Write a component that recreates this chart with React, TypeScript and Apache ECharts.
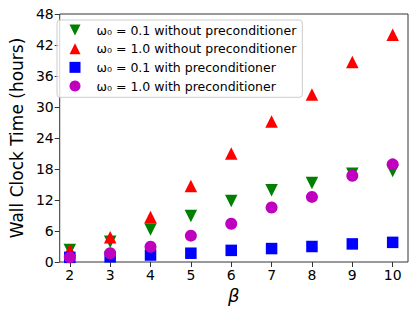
import React, { useEffect, useRef } from "react";
import * as echarts from "echarts";

const betas = [2, 3, 4, 5, 6, 7, 8, 9, 10];
const w01NoPre = [2.3, 3.9, 6.3, 8.9, 11.8, 13.9, 15.3, 17.1, 17.6];
const w10NoPre = [2.3, 4.8, 8.7, 14.7, 21.0, 27.2, 32.4, 38.7, 44.0];
const w01Pre = [0.9, 1.0, 1.35, 1.7, 2.25, 2.6, 3.0, 3.5, 3.8];
const w10Pre = [0.9, 1.7, 2.95, 5.1, 7.4, 10.55, 12.6, 16.7, 18.9];
const xTicks = [2, 3, 4, 5, 6, 7, 8, 9, 10];
const seriesNames = [
  "ω₀ = 0.1 without preconditioner",
  "ω₀ = 1.0 without preconditioner",
  "ω₀ = 0.1 with preconditioner",
  "ω₀ = 1.0 with preconditioner",
];

const FONT = "DejaVu Sans";

export default function App() {
  const ref = useRef<HTMLDivElement>(null);
  useEffect(() => {
    if (!ref.current) return;
    const chart = echarts.init(ref.current, null, { renderer: "svg" });
    const mk = (vals: number[]) => betas.map((b, i) => [b, vals[i]]);
    const downTri = "path://M0,0 L10,0 L5,10 Z";
    chart.setOption({
      animation: false,
      textStyle: { fontFamily: FONT },
      grid: {
        left: 51,
        right: 7,
        top: 14,
        bottom: 50,
        show: true,
        borderColor: "#333",
        borderWidth: 1,
        backgroundColor: "transparent",
      },
      legend: {
        orient: "vertical",
        left: 57,
        top: 20,
        padding: [2.5, 6, 3.8, 12.5],
        itemWidth: 11,
        itemHeight: 11,
        itemGap: 3.67,
        borderColor: "#ccc",
        borderWidth: 1,
        borderRadius: 3,
        backgroundColor: "rgba(255,255,255,0.8)",
        textStyle: { fontFamily: FONT, fontSize: 12.5, lineHeight: 15, color: "#000", padding: [0, 0, 0, 11] },
        data: seriesNames,
      },
      xAxis: {
        type: "value",
        min: 1.75,
        max: 10.38,
        name: "β",
        nameLocation: "middle",
        nameGap: 22,
        nameTextStyle: { fontFamily: FONT, fontSize: 18, fontStyle: "italic", color: "#000" },
        splitLine: { show: false },
        axisLine: { show: false },
        axisTick: { show: true, customValues: xTicks, length: 5, lineStyle: { color: "#333" } },
        axisLabel: { customValues: xTicks, fontSize: 14, color: "#000", margin: 6 },
      },
      yAxis: {
        type: "value",
        min: 0,
        max: 48,
        interval: 6,
        name: "Wall Clock Time (hours)",
        nameLocation: "middle",
        nameGap: 34,
        nameTextStyle: { fontFamily: FONT, fontSize: 17, color: "#000" },
        splitLine: { show: false },
        axisLine: { show: false },
        axisTick: { show: true, length: 5, lineStyle: { color: "#333" } },
        axisLabel: { fontSize: 14, color: "#000", margin: 6 },
      },
      series: [
        {
          name: seriesNames[0],
          type: "scatter",
          symbol: downTri,
          symbolSize: 12.5,
          itemStyle: { color: "#008000", opacity: 1 },
          data: mk(w01NoPre),
        },
        {
          name: seriesNames[1],
          type: "scatter",
          symbol: "triangle",
          symbolSize: 12.5,
          itemStyle: { color: "#ff0000", opacity: 1 },
          data: mk(w10NoPre),
        },
        {
          name: seriesNames[2],
          type: "scatter",
          symbol: "rect",
          symbolSize: 11.5,
          itemStyle: { color: "#0000ff", opacity: 1 },
          data: mk(w01Pre),
        },
        {
          name: seriesNames[3],
          type: "scatter",
          symbol: "circle",
          symbolSize: 12,
          itemStyle: { color: "#bf00bf", opacity: 1 },
          data: mk(w10Pre),
        },
      ],
    });
    return () => chart.dispose();
  }, []);
  return <div ref={ref} style={{ width: 415, height: 312, position: "absolute", left: 0, top: 0 }} />;
}
